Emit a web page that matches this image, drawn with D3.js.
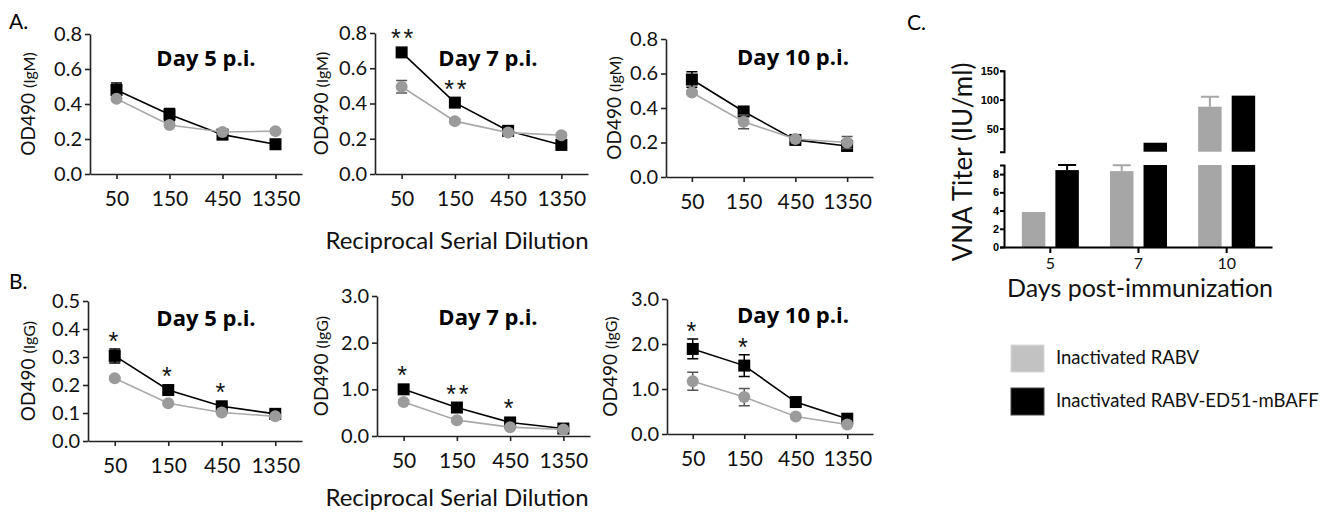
<!DOCTYPE html>
<html>
<head>
<meta charset="utf-8">
<script src="https://cdn.jsdelivr.net/npm/d3@7"></script>
<style>
  body { margin: 0; background: #fff; }
  svg { display: block; }
</style>
</head>
<body>
<script>
// dilution steps shared by all six ELISA panels
const dilutions = ["50", "150", "450", "1350"];

// IgM OD490, inactivated RABV (grey) and RABV-ED51-mBAFF (black)
const igmD5Rabv = [0.43, 0.28, 0.24, 0.245];
const igmD5RabvErr = [0.01, 0.01, 0.01, 0.01];
const igmD5Baff = [0.48, 0.34, 0.225, 0.17];
const igmD5BaffErr = [0.04, 0.035, 0.01, 0.01];
const igmD7Rabv = [0.495, 0.30, 0.235, 0.22];
const igmD7RabvErr = [0.035, 0.01, 0.01, 0.01];
const igmD7Baff = [0.69, 0.405, 0.245, 0.165];
const igmD7BaffErr = [0.01, 0.01, 0.01, 0.01];
const igmD10Rabv = [0.49, 0.32, 0.22, 0.20];
const igmD10RabvErr = [0.01, 0.04, 0.01, 0.035];
const igmD10Baff = [0.565, 0.38, 0.215, 0.18];
const igmD10BaffErr = [0.045, 0.01, 0.01, 0.015];

// IgG OD490
const iggD5Rabv = [0.224, 0.135, 0.102, 0.088];
const iggD5RabvErr = [0.005, 0.005, 0.005, 0.005];
const iggD5Baff = [0.304, 0.182, 0.124, 0.097];
const iggD5BaffErr = [0.025, 0.008, 0.005, 0.005];
const iggD7Rabv = [0.73, 0.34, 0.19, 0.14];
const iggD7RabvErr = [0.04, 0.03, 0.02, 0.02];
const iggD7Baff = [1.0, 0.61, 0.29, 0.16];
const iggD7BaffErr = [0.05, 0.04, 0.03, 0.02];
const iggD10Rabv = [1.17, 0.82, 0.39, 0.21];
const iggD10RabvErr = [0.2, 0.19, 0.03, 0.03];
const iggD10Baff = [1.89, 1.52, 0.71, 0.34];
const iggD10BaffErr = [0.22, 0.24, 0.05, 0.03];

// significance marks per dilution
const noStars = ["", "", "", ""];
const igmD7Stars = ["**", "**", "", ""];
const iggD5Stars = ["*", "*", "*", ""];
const iggD7Stars = ["*", "**", "*", ""];
const iggD10Stars = ["*", "*", "", ""];

const igmTicks = [0, 0.2, 0.4, 0.6, 0.8];
const igg5Ticks = [0, 0.1, 0.2, 0.3, 0.4, 0.5];
const igg710Ticks = [0, 1, 2, 3];

// panel C, VNA titer
const days = ["5", "7", "10"];
const vnaRabv = [3.84, 8.33, 87.8];
const vnaRabvErr = [0, 0.65, 17];
const vnaBaff = [8.44, 25.5, 106.9];
const vnaBaffErr = [0.55, 0, 0];
const lowerTicks = [0, 2, 4, 6, 8];
const upperTicks = [50, 100, 150];
const legendLabels = ["Inactivated RABV", "Inactivated RABV-ED51-mBAFF"];

const FONT = "Lato, 'Open Sans', sans-serif";
const GREY_LINE = "#a9a9a9", GREY_DOT = "#9b9b9b";

const svg = d3.select("body").append("svg")
  .attr("width", 1321).attr("height", 512)
  .style("font-family", FONT);

function drawLinePanel(p) {
  const x = d3.scalePoint().domain(dilutions).range([p.x0, p.x1]).padding(0.5);
  const y = d3.scaleLinear().domain([0, p.yMax]).range([p.yBot, p.yTop]);
  const g = svg.append("g");

  const xa = g.append("g")
    .attr("transform", "translate(0," + p.yBot + ")")
    .call(d3.axisBottom(x).tickSize(5).tickSizeOuter(0).tickPadding(12));
  xa.selectAll("text").style("font-size", "21px").style("font-family", FONT).attr("fill", "#111");

  const ya = g.append("g")
    .attr("transform", "translate(" + p.x0 + ",0)")
    .call(d3.axisLeft(y).tickValues(p.ticks).tickFormat(d3.format(".1f"))
      .tickSize(5).tickSizeOuter(0).tickPadding(3));
  ya.selectAll("text").style("font-size", "20px").style("font-family", FONT).attr("fill", "#111");
  g.selectAll(".domain, .tick line").attr("stroke", "#222").attr("stroke-width", 1.6);

  // y label with smaller isotype in brackets
  const yl = g.append("text")
    .attr("transform", "translate(" + p.labelX + "," + (p.yTop + p.yBot) / 2 + ") rotate(-90)")
    .attr("text-anchor", "middle")
    .style("font-size", "19px").attr("fill", "#111");
  yl.append("tspan").text("OD490 ");
  yl.append("tspan").style("font-size", "16px").text("(" + p.iso + ")");

  g.append("text")
    .attr("x", p.titleX).attr("y", p.titleY)
    .attr("text-anchor", "middle")
    .style("font-family", "'Open Sans', Lato, sans-serif")
    .style("font-size", "22px").style("font-weight", "bold")
    .text(p.title);

  const series = [
    {v: p.baff, e: p.baffErr, line: "#000", fill: "#000", err: "#000", shape: "sq"},
    {v: p.rabv, e: p.rabvErr, line: GREY_LINE, fill: GREY_DOT, err: "#555", shape: "ci"}
  ];
  const line = d3.line().x((d, i) => x(dilutions[i])).y(d => y(d));

  series.forEach(s => {
    g.append("path").attr("d", line(s.v))
      .attr("fill", "none").attr("stroke", s.line).attr("stroke-width", 1.6);
    s.v.forEach((v, i) => {
      const cx = x(dilutions[i]);
      const hi = y(v + s.e[i]), lo = y(v - s.e[i]);
      g.append("path")
        .attr("d", `M${cx},${hi}V${lo}M${cx - 5.5},${hi}H${cx + 5.5}M${cx - 5.5},${lo}H${cx + 5.5}`)
        .attr("stroke", s.err).attr("stroke-width", 1.5).attr("fill", "none");
    });
    s.v.forEach((v, i) => {
      const cx = x(dilutions[i]), cy = y(v);
      if (s.shape === "sq") {
        g.append("rect").attr("x", cx - 6).attr("y", cy - 6)
          .attr("width", 12).attr("height", 12).attr("fill", s.fill);
      } else {
        g.append("circle").attr("cx", cx).attr("cy", cy).attr("r", 6).attr("fill", s.fill);
      }
    });
  });

  // asterisks above the higher series
  p.stars.forEach((s, i) => {
    if (!s) return;
    const top = Math.min(y(p.baff[i] + p.baffErr[i]), y(p.baff[i]) - 6);
    g.append("text")
      .attr("x", x(dilutions[i]) + (s.length > 1 ? 2 : 0)).attr("y", top + 1)
      .attr("text-anchor", "middle")
      .style("font-family", "'Liberation Sans', Arial, sans-serif")
      .style("font-size", "25px").style("letter-spacing", "3px").attr("fill", "#111")
      .text(s);
  });
}

const rowA = [
  {x0: 90, x1: 302, yTop: 34, yBot: 174, labelX: 35, titleX: 206, titleY: 66, title: "Day 5 p.i.",
   rabv: igmD5Rabv, rabvErr: igmD5RabvErr, baff: igmD5Baff, baffErr: igmD5BaffErr, stars: noStars},
  {x0: 375, x1: 588, yTop: 33, yBot: 174, labelX: 328, titleX: 488, titleY: 66, title: "Day 7 p.i.",
   rabv: igmD7Rabv, rabvErr: igmD7RabvErr, baff: igmD7Baff, baffErr: igmD7BaffErr, stars: igmD7Stars},
  {x0: 666, x1: 873, yTop: 39, yBot: 177, labelX: 621, titleX: 793, titleY: 65, title: "Day 10 p.i.",
   rabv: igmD10Rabv, rabvErr: igmD10RabvErr, baff: igmD10Baff, baffErr: igmD10BaffErr, stars: noStars}
];
rowA.forEach(p => drawLinePanel(Object.assign({yMax: 0.8, ticks: igmTicks, iso: "IgM"}, p)));

const rowB = [
  {x0: 88, x1: 302, yTop: 301, yBot: 441, labelX: 35, titleX: 206, titleY: 326, title: "Day 5 p.i.",
   yMax: 0.5, ticks: igg5Ticks,
   rabv: iggD5Rabv, rabvErr: iggD5RabvErr, baff: iggD5Baff, baffErr: iggD5BaffErr, stars: iggD5Stars},
  {x0: 377, x1: 590, yTop: 296, yBot: 436, labelX: 328, titleX: 488, titleY: 325, title: "Day 7 p.i.",
   yMax: 3, ticks: igg710Ticks,
   rabv: iggD7Rabv, rabvErr: iggD7RabvErr, baff: iggD7Baff, baffErr: iggD7BaffErr, stars: iggD7Stars},
  {x0: 667, x1: 873, yTop: 299, yBot: 434, labelX: 617, titleX: 793, titleY: 323, title: "Day 10 p.i.",
   yMax: 3, ticks: igg710Ticks,
   rabv: iggD10Rabv, rabvErr: iggD10RabvErr, baff: iggD10Baff, baffErr: iggD10BaffErr, stars: iggD10Stars}
];
rowB.forEach(p => drawLinePanel(Object.assign({iso: "IgG"}, p)));

// shared x titles and panel letters
[249, 506].forEach(yy => {
  svg.append("text").attr("x", 457).attr("y", yy).attr("text-anchor", "middle")
    .style("font-size", "24px").attr("fill", "#111").text("Reciprocal Serial Dilution");
});
svg.append("text").attr("x", 9).attr("y", 29).style("font-size", "21px").text("A.");
svg.append("text").attr("x", 9).attr("y", 289).style("font-size", "21px").text("B.");
svg.append("text").attr("x", 907).attr("y", 30).style("font-size", "21px").text("C.");

// ---- panel C: broken-axis bar chart ----
const cX0 = 1004, cX1 = 1272, cBase = 247;
const xC = d3.scalePoint().domain(days).range([cX0, cX1]).padding(0.52);
const sub = d3.scaleBand().domain(["rabv", "baff"]).range([-28, 29]).paddingInner(0.3);
const yLow = d3.scaleLinear().domain([0, 9]).range([cBase, 165]);
const yUp = d3.scaleLinear().domain([10, 150]).range([151.7, 70.7]);
const gc = svg.append("g");

const barSeries = [
  {key: "rabv", v: vnaRabv, e: vnaRabvErr, color: "#a6a6a6"},
  {key: "baff", v: vnaBaff, e: vnaBaffErr, color: "#000"}
];
barSeries.forEach(s => {
  s.v.forEach((v, i) => {
    const bx = xC(days[i]) + sub(s.key), bw = sub.bandwidth();
    const top = v + s.e[i];
    // error bar (upper half only)
    if (s.e[i] > 0) {
      const sc = top <= 9 ? yLow : yUp;
      const cx = bx + bw / 2;
      gc.append("path")
        .attr("d", `M${cx},${sc(v)}V${sc(top)}M${cx - 9},${sc(top)}H${cx + 9}`)
        .attr("stroke", s.color).attr("stroke-width", 2).attr("fill", "none");
    }
    gc.append("rect").attr("x", bx).attr("width", bw)
      .attr("y", yLow(Math.min(v, 9))).attr("height", cBase - yLow(Math.min(v, 9)))
      .attr("fill", s.color);
    if (v > 10) {
      gc.append("rect").attr("x", bx).attr("width", bw)
        .attr("y", yUp(v)).attr("height", yUp(10) - yUp(v))
        .attr("fill", s.color);
    }
  });
});

const cxa = gc.append("g").attr("transform", "translate(0," + cBase + ")")
  .call(d3.axisBottom(xC).tickSize(6).tickSizeOuter(0).tickPadding(5));
cxa.selectAll("text").style("font-size", "16px").style("font-family", FONT).attr("fill", "#111");
const cyLow = gc.append("g").attr("transform", "translate(" + cX0 + ",0)")
  .call(d3.axisLeft(yLow).tickValues(lowerTicks).tickSize(4).tickSizeOuter(4).tickPadding(1));
const cyUp = gc.append("g").attr("transform", "translate(" + cX0 + ",0)")
  .call(d3.axisLeft(yUp).tickValues(upperTicks).tickSize(4).tickSizeOuter(4).tickPadding(1));
[cyLow, cyUp].forEach(a => a.selectAll("text")
  .style("font-family", "'Liberation Sans', Arial, sans-serif")
  .style("font-size", "11px").style("font-weight", "bold").attr("fill", "#000"));
gc.selectAll(".domain, .tick line").attr("stroke", "#000").attr("stroke-width", 2);

gc.append("text")
  .attr("transform", "translate(972,162) rotate(-90)")
  .attr("text-anchor", "middle").style("font-size", "26px").attr("fill", "#111")
  .text("VNA Titer (IU/ml)");
gc.append("text").attr("x", 1140).attr("y", 297).attr("text-anchor", "middle")
  .style("font-size", "25px").attr("fill", "#111").text("Days post-immunization");

// legend
const legColors = ["#c2c2c2", "#000"];
legendLabels.forEach((t, i) => {
  const ly = 345 + i * 43;
  gc.append("rect").attr("x", 1011).attr("y", ly).attr("width", 33).attr("height", 27)
    .attr("fill", legColors[i]).attr("stroke", i ? "#444" : "#d8d8d8").attr("stroke-width", 1);
  gc.append("text").attr("x", 1056).attr("y", ly + 19)
    .style("font-size", "18.5px").attr("fill", "#111").text(t);
});
</script>
</body>
</html>
